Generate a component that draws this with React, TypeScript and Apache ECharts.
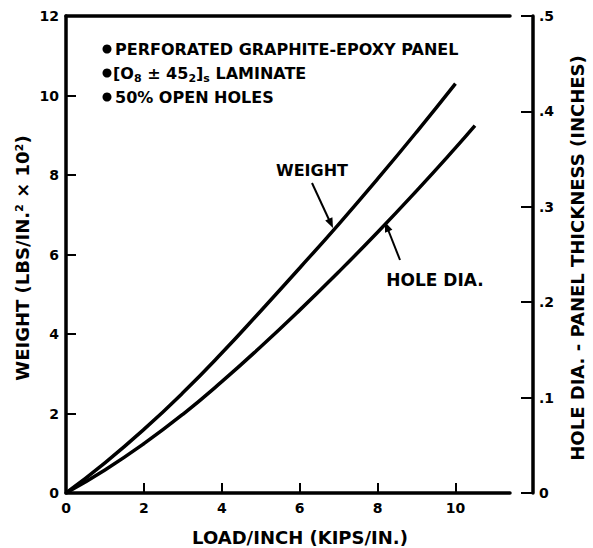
import React, { useEffect, useRef } from "react";
import * as echarts from "echarts";

const weightX = [0, 1, 2, 3, 4, 5, 6, 7, 8, 9, 10];
const weightY = [0, 0.76, 1.6, 2.52, 3.52, 4.58, 5.66, 6.76, 7.9, 9.08, 10.3];

const holeX = [0, 1, 2, 3, 4, 5, 6, 7, 8, 9, 10, 10.5];
const holeY = [0, 0.0242, 0.0517, 0.0825, 0.1167, 0.1533, 0.1917, 0.2317, 0.2733, 0.3167, 0.3617, 0.385];

const leftTicks = [0, 2, 4, 6, 8, 10, 12];
const rightTicks = ["0", ".1", ".2", ".3", ".4", ".5"];
const bottomTicks = [0, 2, 4, 6, 8, 10];

const notes = [
  "PERFORATED GRAPHITE-EPOXY PANEL",
  "LAMINATE",
  "50% OPEN HOLES",
];

const FONT = "DejaVu Sans";

export default function App() {
  const ref = useRef<HTMLDivElement>(null);
  useEffect(() => {
    if (!ref.current) return;
    const chart = echarts.init(ref.current, null, { renderer: "svg" });
    const labelStyle = {
      color: "#000",
      fontFamily: FONT,
      fontWeight: "bold" as const,
      fontSize: 14,
    };
    const textStyle = (extra: any) => ({
      fill: "#000",
      fontFamily: FONT,
      fontWeight: "bold",
      ...extra,
    });
    const line = { show: true, onZero: false, lineStyle: { color: "#000", width: 3.5 } };
    chart.setOption({
      animation: false,
      backgroundColor: "#fff",
      grid: { left: 66, top: 16, width: 444, height: 477, containLabel: false },
      xAxis: [
        {
          type: "value",
          min: 0,
          max: 11.4,
          interval: 2,
          position: "bottom",
          axisLine: line,
          axisTick: { show: true, inside: true, length: 10, lineStyle: { color: "#000", width: 2 } },
          axisLabel: {
            ...labelStyle,
            margin: 8,
            showMaxLabel: false,
            formatter: (v: number) => (bottomTicks.includes(v) ? String(v) : ""),
          },
          splitLine: { show: false },
        },
        {
          type: "value",
          min: 0,
          max: 11.4,
          position: "top",
          axisLine: line,
          axisTick: { show: false },
          axisLabel: { show: false },
          splitLine: { show: false },
        },
      ],
      yAxis: [
        {
          type: "value",
          min: 0,
          max: 12,
          interval: 2,
          position: "left",
          axisLine: line,
          axisTick: { show: true, inside: true, length: 10, lineStyle: { color: "#000", width: 2 } },
          axisLabel: {
            ...labelStyle,
            margin: 7,
            formatter: (v: number) => (leftTicks.includes(v) ? String(v) : ""),
          },
          splitLine: { show: false },
        },
        {
          type: "value",
          min: 0,
          max: 0.5,
          interval: 0.1,
          position: "right",
          offset: 23,
          axisLine: line,
          axisTick: { show: true, inside: true, length: 12, lineStyle: { color: "#000", width: 2 } },
          axisLabel: {
            ...labelStyle,
            margin: 6,
            formatter: (v: number) => rightTicks[Math.round(v * 10)] ?? "",
          },
          splitLine: { show: false },
        },
      ],
      series: [
        {
          name: "WEIGHT",
          type: "line",
          xAxisIndex: 0,
          yAxisIndex: 0,
          smooth: true,
          symbol: "none",
          lineStyle: { color: "#000", width: 3.5 },
          data: weightX.map((x, i) => [x, weightY[i]]),
        },
        {
          name: "HOLE DIA.",
          type: "line",
          xAxisIndex: 0,
          yAxisIndex: 1,
          smooth: true,
          symbol: "none",
          lineStyle: { color: "#000", width: 3.5 },
          data: holeX.map((x, i) => [x, holeY[i]]),
        },
      ],
      graphic: [
        // notes
        { type: "circle", shape: { cx: 107, cy: 49, r: 4.5 }, style: { fill: "#000" } },
        { type: "text", x: 115, y: 49, style: textStyle({ text: notes[0], fontSize: 16, verticalAlign: "middle" }) },
        { type: "circle", shape: { cx: 107, cy: 73, r: 4.5 }, style: { fill: "#000" } },
        {
          type: "text",
          x: 113,
          y: 73,
          style: textStyle({
            text: "[O{sub|8} ± 45{sub|2}]{sub|s} " + notes[1],
            fontSize: 16,
            verticalAlign: "middle",
            rich: {
              sub: { fontFamily: FONT, fontSize: 11, fontWeight: "bold", fill: "#000", padding: [10, 0, 0, 0] },
            },
          }),
        },
        { type: "circle", shape: { cx: 107, cy: 97, r: 4.5 }, style: { fill: "#000" } },
        { type: "text", x: 115, y: 97, style: textStyle({ text: notes[2], fontSize: 16, verticalAlign: "middle" }) },
        // axis titles
        {
          type: "text",
          x: 22,
          y: 258,
          rotation: Math.PI / 2,
          style: textStyle({ text: "WEIGHT (LBS/IN.² × 10²)", fontSize: 18, align: "center", verticalAlign: "middle" }),
        },
        {
          type: "text",
          x: 577,
          y: 258,
          rotation: Math.PI / 2,
          style: textStyle({ text: "HOLE DIA. - PANEL THICKNESS (INCHES)", fontSize: 18, align: "center", verticalAlign: "middle" }),
        },
        {
          type: "text",
          x: 300,
          y: 537,
          style: textStyle({ text: "LOAD/INCH (KIPS/IN.)", fontSize: 18, align: "center", verticalAlign: "middle" }),
        },
        // annotations
        { type: "text", x: 312, y: 170, style: textStyle({ text: "WEIGHT", fontSize: 16, align: "center", verticalAlign: "middle" }) },
        { type: "line", shape: { x1: 312, y1: 183, x2: 331, y2: 224 }, style: { stroke: "#000", lineWidth: 2 } },
        { type: "polygon", shape: { points: [[333, 228], [325.2, 220.6], [332.4, 217.2]] }, style: { fill: "#000" } },
        { type: "text", x: 435, y: 280, style: textStyle({ text: "HOLE DIA.", fontSize: 17, align: "center", verticalAlign: "middle" }) },
        { type: "line", shape: { x1: 400, y1: 260, x2: 387, y2: 227 }, style: { stroke: "#000", lineWidth: 2 } },
        { type: "polygon", shape: { points: [[385, 222], [392.4, 229.8], [385, 232.8]] }, style: { fill: "#000" } },
      ],
    });
    return () => chart.dispose();
  }, []);
  return (
    <div
      ref={ref}
      style={{ position: "fixed", left: 0, top: 0, width: 593, height: 548, background: "#fff" }}
    />
  );
}
